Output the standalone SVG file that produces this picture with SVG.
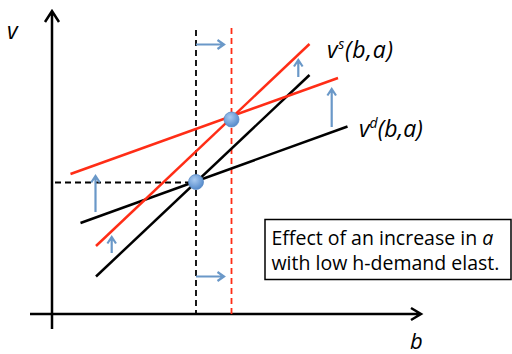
<svg xmlns="http://www.w3.org/2000/svg" width="512" height="354" viewBox="0 0 512 354">
<style>
.ax{stroke:#000;stroke-width:2.5;fill:none}
.bl{stroke:#000;stroke-width:2.5;fill:none}
.rd{stroke:#ff2d16;stroke-width:2.5;fill:none}
.dk{stroke:#000;stroke-width:1.8;stroke-dasharray:6 4;fill:none}
.dr{stroke:#ff2d16;stroke-width:1.8;stroke-dasharray:6 4;fill:none}
.sh{stroke:#6a98c8;stroke-width:2.2;fill:none}
.lab{font-family:"Open Sans","Liberation Sans",sans-serif;font-style:italic;fill:#000}
.box{font-family:"Open Sans","Liberation Sans",sans-serif;fill:#000;font-size:19.5px}
</style>
<defs>
<radialGradient id="g" cx="0.4" cy="0.35" r="0.7">
<stop offset="0" stop-color="#a9cbf2"/>
<stop offset="1" stop-color="#4f86c8"/>
</radialGradient>
</defs>
<g id="axes">
<path class="ax" d="M52,329 V11 M45,22 L52,11 L59,22"/>
<path class="ax" d="M30,314 H421 M411,308 L421,314 L411,320"/>
<text class="lab" x="7" y="39" font-size="23">v</text>
<text class="lab" x="410" y="349" font-size="22">b</text>
</g>
<g id="connectors">
<path class="dk" d="M196,30 V314"/>
<path class="dr" d="M231.5,28 V314"/>
<path class="dk" d="M55,182.5 H196"/>
<path class="bl" d="M96,276.5 L309.5,75"/>
<path class="bl" d="M80.5,223 L347.5,126.5"/>
<path class="rd" d="M96,246 L309.5,44"/>
<path class="rd" d="M70.5,174 L338,78"/>
<path class="sh" d="M196,44.5 H223 M217.5,40 L224,44.5 L217.5,49"/>
<path class="sh" d="M196,276.5 H223 M217.5,272 L224,276.5 L217.5,281"/>
<path class="sh" d="M298.3,77 V61 M294,66.5 L298.3,60 L302.6,66.5"/>
<path class="sh" d="M331.7,127 V90 M327.4,95.5 L331.7,89 L336,95.5"/>
<path class="sh" d="M95.5,212 V177 M91.2,182.5 L95.5,176 L99.8,182.5"/>
<path class="sh" d="M111.7,253 V238 M107.4,243.5 L111.7,237 L116,243.5"/>
</g>
<g id="eq1"><circle cx="196" cy="182" r="7.5" fill="url(#g)" stroke="#5b8cc6" stroke-width="0.8"/></g>
<g id="eq2"><circle cx="231.5" cy="119.5" r="7.5" fill="url(#g)" stroke="#5b8cc6" stroke-width="0.8"/></g>
<g id="vs-label"><text class="lab" x="327" y="58" font-size="23" textLength="66">v<tspan font-size="14" dy="-9">s</tspan><tspan dy="9">(b,a)</tspan></text></g>
<g id="vd-label"><text class="lab" x="359" y="137" font-size="23">v<tspan font-size="14" dy="-9">d</tspan><tspan dy="9">(b,a)</tspan></text></g>
<g id="note">
<rect x="265" y="219.5" width="246" height="60" fill="#fff" stroke="#000" stroke-width="1.5"/>
<text class="box" x="271.5" y="245">Effect of an increase in <tspan font-style="italic">a</tspan></text>
<text class="box" x="271.5" y="270">with low h-demand elast.</text>
</g>
</svg>
